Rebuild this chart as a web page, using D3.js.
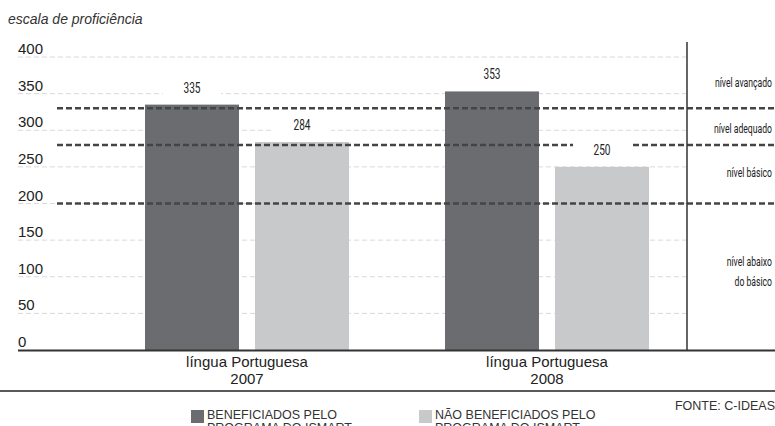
<!DOCTYPE html>
<html>
<head>
<meta charset="utf-8">
<script src="https://cdn.jsdelivr.net/npm/d3@7"></script>
<style>
  body { margin: 0; background: #fff; }
  svg { display: block; font-family: "Liberation Sans", Arial, sans-serif; }
  .narrow { font-family: "Roboto", "Liberation Sans", sans-serif; }
</style>
</head>
<body>
<script>

    // data
    const categories = ['língua Portuguesa|2007', 'língua Portuguesa|2008'];
    const series = ['beneficiados', 'naoBeneficiados'];
    const seriesLabels = [['BENEFICIADOS PELO', 'PROGRAMA DO ISMART'], ['NÃO BENEFICIADOS PELO', 'PROGRAMA DO ISMART']];
    const beneficiados = [335, 353];
    const naoBeneficiados = [284, 250];
    const yTicks = [0, 50, 100, 150, 200, 250, 300, 350, 400];
    const levelLines = [330, 280, 200];
    const levelLabels = [
        { lines: ['nível avançado'], y: 83 },
        { lines: ['nível adequado'], y: 129 },
        { lines: ['nível básico'], y: 173 },
        { lines: ['nível abaixo', 'do básico'], y: 262 }
    ];

    const W = 775, H = 426;
    const colors = d3.scaleOrdinal().domain(series).range(['#6b6c70', '#c8c9cb']);

    const svg = d3.select('body').append('svg')
        .attr('width', W)
        .attr('height', H);

    const y = d3.scaleLinear().domain([0, 400]).range([350, 57]);
    const x0 = d3.scaleBand().domain(categories).range([97, 697]);
    const x1 = d3.scaleBand().domain(series).range([48, 252]).paddingInner(0.1455);

    const divider = 687;

    // title
    svg.append('text')
        .attr('x', 8).attr('y', 24)
        .attr('font-size', 14).attr('font-style', 'italic')
        .attr('fill', '#333')
        .text('escala de proficiência');

    // grid lines + tick labels
    svg.append('g').selectAll('line')
        .data(yTicks.filter(d => d > 0))
        .join('line')
        .attr('x1', 18).attr('x2', divider)
        .attr('y1', d => y(d)).attr('y2', d => y(d))
        .attr('stroke', '#d9d9d9')
        .attr('stroke-width', 1)
        .attr('stroke-dasharray', '5,3');

    svg.append('g').selectAll('text')
        .data(yTicks)
        .join('text')
        .attr('x', 18)
        .attr('y', d => y(d) - 3)
        .attr('font-size', 15)
        .attr('fill', '#222')
        .text(d => d);

    // bars
    const rows = categories.map((c, i) => ({ cat: c, values: [beneficiados[i], naoBeneficiados[i]] }));
    const cells = rows.flatMap(r => series.map((s, j) => ({ cat: r.cat, key: s, value: r.values[j] })));
    const cx = d => x0(d.cat) + x1(d.key) + x1.bandwidth() / 2;

    svg.append('g').selectAll('rect')
        .data(cells)
        .join('rect')
        .attr('x', d => x0(d.cat) + x1(d.key))
        .attr('width', x1.bandwidth())
        .attr('y', d => y(d.value))
        .attr('height', d => y(0) - y(d.value))
        .attr('fill', d => colors(d.key));

    // level lines
    svg.append('g').selectAll('line')
        .data(levelLines)
        .join('line')
        .attr('x1', 57).attr('x2', W)
        .attr('y1', d => y(d)).attr('y2', d => y(d))
        .attr('stroke', '#444')
        .attr('stroke-width', 2.5)
        .attr('stroke-dasharray', '6,3');

    // value labels with white boxes (drawn over the lines)
    const labels = svg.append('g').selectAll('g')
        .data(cells)
        .join('g')
        .attr('transform', d => `translate(${cx(d)},${y(d.value) - 17})`);

    labels.append('rect')
        .attr('x', -29).attr('y', -10)
        .attr('width', 58).attr('height', 19)
        .attr('fill', '#fff');

    labels.append('text')
        .attr('class', 'narrow')
        .attr('text-anchor', 'middle')
        .attr('dy', '0.35em')
        .attr('transform', 'scale(0.72,1)')
        .attr('font-size', 14)
        .attr('fill', '#222')
        .text(d => d.value);

    // divider and baseline
    svg.append('line')
        .attr('x1', divider).attr('x2', divider)
        .attr('y1', 42).attr('y2', 350)
        .attr('stroke', '#333').attr('stroke-width', 1.5);

    svg.append('line')
        .attr('x1', 18).attr('x2', W)
        .attr('y1', 350.5).attr('y2', 350.5)
        .attr('stroke', '#333').attr('stroke-width', 1.8);

    // level labels
    const lvl = svg.append('g').selectAll('g')
        .data(levelLabels)
        .join('g')
        .attr('transform', d => `translate(772,${d.y}) scale(0.72,1)`)
        .append('text')
        .attr('class', 'narrow')
        .attr('text-anchor', 'end')
        .attr('font-size', 12)
        .attr('fill', '#222');
    lvl.selectAll('tspan')
        .data(d => d.lines)
        .join('tspan')
        .attr('x', 0)
        .attr('dy', (d, i) => i === 0 ? '0.35em' : '1.65em')
        .text(d => d);

    // category labels
    const cl = svg.append('g').selectAll('text')
        .data(categories)
        .join('text')
        .attr('text-anchor', 'middle')
        .attr('font-size', 15)
        .attr('fill', '#222')
        .attr('y', 367);
    cl.selectAll('tspan')
        .data(d => d.split('|'))
        .join('tspan')
        .attr('x', function () { return x0(this.parentNode.__data__) + x0.bandwidth() / 2; })
        .attr('dy', (d, i) => i === 0 ? 0 : 17)
        .text(d => d);

    svg.append('line')
        .attr('x1', 0).attr('x2', W)
        .attr('y1', 391).attr('y2', 391)
        .attr('stroke', '#222').attr('stroke-width', 1.3);

    // legend
    const legendX = [191, 419];
    const leg = svg.append('g').selectAll('g')
        .data(series)
        .join('g')
        .attr('transform', (d, i) => `translate(${legendX[i]},410)`);
    leg.append('rect')
        .attr('width', 13).attr('height', 13)
        .attr('fill', d => colors(d));
    leg.append('text')
        .attr('x', 16).attr('y', 9)
        .attr('font-size', 12.5)
        .attr('fill', '#333')
        .selectAll('tspan')
        .data((d, i) => seriesLabels[i])
        .join('tspan')
        .attr('x', 16)
        .attr('dy', (d, i) => i === 0 ? 0 : 13)
        .text(d => d);

    svg.append('text')
        .attr('x', W).attr('y', 410)
        .attr('text-anchor', 'end')
        .attr('font-size', 12.5)
        .attr('fill', '#333')
        .text('FONTE: C-IDEAS');
</script>
</body>
</html>
